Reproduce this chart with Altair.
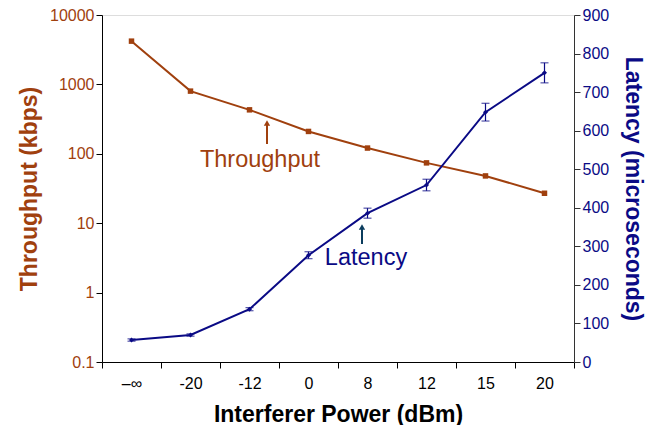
import altair as alt
import pandas as pd

# ---- data ----
power_labels = ["–∞", "-20", "-12", "0", "8", "12", "15", "20"]
throughput_kbps = [4200, 800, 430, 210, 121, 74, 48, 27]
latency_us = [57, 70, 137, 277, 386, 459, 648, 750]
latency_err = [3, 3, 4, 9, 13, 15, 23, 26]

BROWN = "#A0400E"
NAVY = "#0A0A85"
TEAL = "#0B3C5D"
FONT = "Liberation Sans"

df = pd.DataFrame({
    "power": power_labels,
    "thr": throughput_kbps,
    "lat": latency_us,
    "lo": [l - e for l, e in zip(latency_us, latency_err)],
    "hi": [l + e for l, e in zip(latency_us, latency_err)],
})

x_axis = alt.Axis(title="Interferer Power (dBm)", tickBand="extent", labelAngle=0,
                  labelFontSize=16, labelColor="#000", labelPadding=7,
                  titleFontSize=23, titleFontWeight="bold", titleColor="#000",
                  titlePadding=12, tickSize=6, tickColor="#000", domainColor="#000",
                  labelFont=FONT, titleFont=FONT)


def xe():
    return alt.X("power:N", sort=power_labels,
                 scale=alt.Scale(paddingInner=0, paddingOuter=0), axis=x_axis)


thr_axis = alt.Axis(orient="left", title="Throughput (kbps)", values=[0.1, 1, 10, 100, 1000, 10000],
                    labelExpr="datum.value < 1 ? format(datum.value, '.1f') : format(datum.value, 'd')",
                    labelColor=BROWN, titleColor=BROWN, labelFontSize=16, titleFontSize=23,
                    titleFontWeight="bold", titlePadding=8, tickSize=6, tickColor="#000",
                    domainColor="#000", grid=False, labelFont=FONT, titleFont=FONT,
                    labelOverlap=False)
thr_scale = alt.Scale(type="log", domain=[0.1, 10000])

lat_axis = alt.Axis(orient="right", title="Latency (microseconds)", values=list(range(0, 901, 100)),
                    labelColor=NAVY, titleColor=NAVY, labelFontSize=16, titleFontSize=23,
                    titleFontWeight="bold", titlePadding=12, tickSize=6, tickColor="#333",
                    domainColor="#333", grid=False, labelFont=FONT, titleFont=FONT,
                    labelOverlap=False, tickCount=10)
lat_scale = alt.Scale(domain=[0, 900], nice=False)


def ylat(field):
    return alt.Y(field, scale=lat_scale, axis=lat_axis, title="Latency (microseconds)")


base = alt.Chart(df)

thr_line = base.mark_line(color=BROWN, strokeWidth=2).encode(
    x=xe(), y=alt.Y("thr:Q", scale=thr_scale, axis=thr_axis))
thr_pts = base.mark_point(shape="square", filled=True, color=BROWN, size=30, opacity=1).encode(
    x=xe(), y=alt.Y("thr:Q", scale=thr_scale, axis=thr_axis))
left = alt.layer(thr_line, thr_pts)

lat_line = base.mark_line(color=NAVY, strokeWidth=2).encode(x=xe(), y=ylat("lat:Q"))
lat_pts = base.mark_point(shape="diamond", filled=True, color=NAVY, size=25, opacity=1).encode(
    x=xe(), y=ylat("lat:Q"))
lat_err = base.mark_rule(color=NAVY, strokeWidth=1.2).encode(
    x=xe(), y=ylat("lo:Q"), y2="hi:Q")
lat_cap_lo = base.mark_tick(color=NAVY, orient="horizontal", size=8, thickness=1.2).encode(
    x=xe(), y=ylat("lo:Q"))
lat_cap_hi = base.mark_tick(color=NAVY, orient="horizontal", size=8, thickness=1.2).encode(
    x=xe(), y=ylat("hi:Q"))
right = alt.layer(lat_line, lat_err, lat_cap_lo, lat_cap_hi, lat_pts)

# ---- annotations ----
ann = pd.DataFrame({"a": [0]})
abase = alt.Chart(ann)
thr_text = abase.mark_text(text="Throughput", color=BROWN, fontSize=23.5, font=FONT).encode(
    x=alt.value(158), y=alt.value(145))
thr_arrow = abase.mark_rule(color=BROWN, strokeWidth=2).encode(
    x=alt.value(165), y=alt.value(129), y2=alt.value(110))
thr_head = abase.mark_point(shape="triangle-up", filled=True, color=BROWN, size=40, opacity=1).encode(
    x=alt.value(165), y=alt.value(108))
lat_text = abase.mark_text(text="Latency", color=NAVY, fontSize=23.5, font=FONT).encode(
    x=alt.value(264), y=alt.value(243))
lat_arrow = abase.mark_rule(color=TEAL, strokeWidth=2).encode(
    x=alt.value(260), y=alt.value(229), y2=alt.value(214))
lat_head = abase.mark_point(shape="triangle-up", filled=True, color=TEAL, size=40, opacity=1).encode(
    x=alt.value(260), y=alt.value(212))
annotations = alt.layer(thr_text, thr_arrow, thr_head, lat_text, lat_arrow, lat_head)

chart = alt.layer(left, right, annotations).resolve_scale(y="independent").properties(
    width=472, height=347,
    autosize=alt.AutoSizeParams(type="none"),
    padding={"left": 94, "top": 7, "right": 77, "bottom": 63},
).configure_view(stroke="#999", strokeWidth=1).configure(background="white")

chart.save("out.html", embed_options={"renderer": "svg", "actions": False})
